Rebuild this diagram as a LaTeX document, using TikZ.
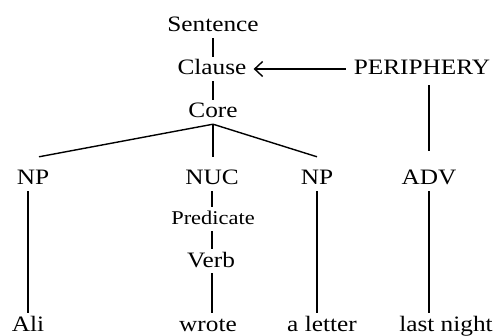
\documentclass[tikz,border=0pt]{standalone}
\usepackage{fontspec}
\setmainfont{Liberation Serif}[FakeStretch=1.15]
\usetikzlibrary{arrows.meta}

\begin{document}
\begin{tikzpicture}[x=1pt,y=-1pt,
    lbl/.style={anchor=base,inner sep=2pt,text height=16pt,text depth=4pt,
      font=\fontsize{22}{24}\selectfont},
    small/.style={lbl,font=\fontsize{19.5}{22}\selectfont},
    phrase/.style={lbl,text height=26pt},
    word/.style={lbl,inner ysep=0pt,text height=18pt},
    branch/.style={line width=1.4pt}]
    \useasboundingbox (0,0) rectangle (497,336);
    % spine
    \node[lbl] (sentence) at (213,32) {Sentence};
    \node[lbl] (clause) at (212,75) {Clause};
    \node[lbl] (core) at (213,118) {Core};
    \node[lbl] (peri) at (422,75) {PERIPHERY};
    % core arguments and nucleus
    \node[phrase] (np1) at (33,185) {NP};
    \node[phrase] (nuc) at (212,185) {NUC};
    \node[phrase] (np2) at (317,185) {NP};
    \node[phrase] (adv) at (429,185) {ADV};
    \node[small] (pred) at (213,225) {Predicate};
    \node[lbl] (verb) at (211,267) {Verb};
    % words
    \node[word] (ali) at (28,331) {Ali};
    \node[word] (wrote) at (208,331) {wrote};
    \node[word] (letter) at (322,331) {a letter};
    \node[word] (night) at (446,331) {last night};

    \draw[branch] (sentence.south) -- (sentence.south |- clause.north);
    \draw[branch] (clause.south -| core) -- (core.north);
    \draw[branch,-{Straight Barb[length=8pt,width=15pt]},shorten <=6pt,shorten >=5pt]
      (peri.west) -- (clause.east);
    \draw[branch] (core.south) -- ([xshift=6pt]np1.north);
    \draw[branch] (core.south) -- (core.south |- nuc.north);
    \draw[branch] (core.south) -- (np2.north);
    \draw[branch,shorten <=4pt,shorten >=6pt] (adv.north |- peri.south) -- (adv.north);
    \draw[branch] (nuc.south) -- (nuc.south |- pred.north);
    \draw[branch] (nuc.south |- pred.south) -- (nuc.south |- verb.north);
    \draw[branch] (nuc.south |- verb.south) -- (nuc.south |- wrote.north);
    \draw[branch] (ali.north |- np1.south) -- (ali.north);
    \draw[branch] (np2.south) -- (np2.south |- letter.north);
    \draw[branch] (adv.south) -- (adv.south |- night.north);
\end{tikzpicture}
\end{document}
